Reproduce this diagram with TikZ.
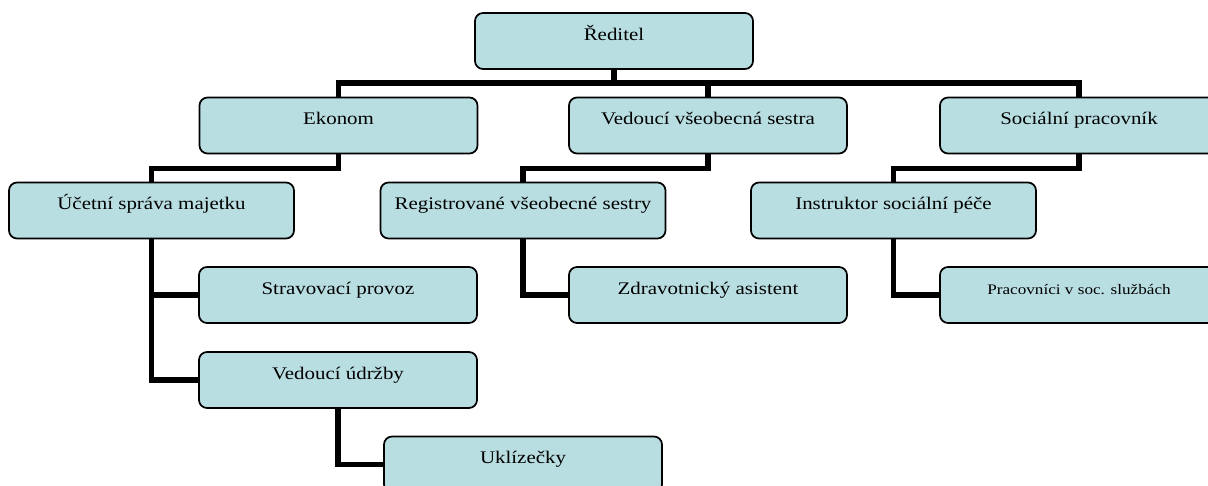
\documentclass[tikz,border=0pt]{standalone}
\usepackage{fontspec}
\setmainfont{Liberation Serif}[FakeStretch=1.18]
\definecolor{boxfill}{RGB}{185,222,225}

\begin{document}
\begin{tikzpicture}[x=0.75pt, y=-0.75pt,
		unit/.style={draw=black, fill=boxfill, line width=1.3pt, rounded corners=6pt, inner sep=0pt,
			minimum width=208.5pt, minimum height=42pt, text height=12pt, text depth=12.8pt, font=\fontsize{13.3}{15}\selectfont},
		wideunit/.style={unit, minimum width=213.75pt},
		smallunit/.style={unit, font=\fontsize{10.9}{13}\selectfont},
		link/.style={line width=4.3pt, black}]
	\useasboundingbox (0, 0) rectangle (1208, 486);
	\clip (0, 0) rectangle (1208, 486);

	\draw (614, 41) 	node[unit] 		(reditel) 	{Ředitel};
	\draw (338.5, 125.5) 	node[unit] 		(ekonom) 	{Ekonom};
	\draw (708, 125.5) 	node[unit] 		(vedouci) 	{Vedoucí všeobecná sestra};
	\draw (1079, 125.5) 	node[unit] 		(socialni) 	{Sociální pracovník};
	\draw (151.5, 210.5) 	node[wideunit] 	(ucetni) 	{Účetní správa majetku};
	\draw (523, 210.5) 	node[wideunit] 	(sestry) 	{Registrované všeobecné sestry};
	\draw (893.5, 210.5) 	node[wideunit] 	(instruktor) 	{Instruktor sociální péče};
	\draw (338, 295) 	node[unit] 		(strava) 	{Stravovací provoz};
	\draw (338, 380) 	node[unit] 		(udrzba) 	{Vedoucí údržby};
	\draw (523, 464.5) 	node[unit] 		(uklid) 	{Uklízečky};
	\draw (708, 295) 	node[unit] 		(asistent) 	{Zdravotnický asistent};
	\draw (1079, 295) 	node[smallunit] 	(pracovnici) 	{Pracovníci v soc. službách};

	\draw[link] (reditel.south) -- ++(0, 13) -| (ekonom.north);
	\draw[link] (reditel.south) -- ++(0, 13) -| (vedouci.north);
	\draw[link] (reditel.south) -- ++(0, 13) -| (socialni.north);
	\draw[link] (ekonom.south) -- ++(0, 14) -| (ucetni.north);
	\draw[link] (vedouci.south) -- ++(0, 14) -| (sestry.north);
	\draw[link] (socialni.south) -- ++(0, 14) -| (instruktor.north);
	\draw[link] (ucetni.south) |- (strava.west);
	\draw[link] (ucetni.south) |- (udrzba.west);
	\draw[link] (udrzba.south) |- (uklid.west);
	\draw[link] (sestry.south) |- (asistent.west);
	\draw[link] (instruktor.south) |- (pracovnici.west);
\end{tikzpicture}
\end{document}
